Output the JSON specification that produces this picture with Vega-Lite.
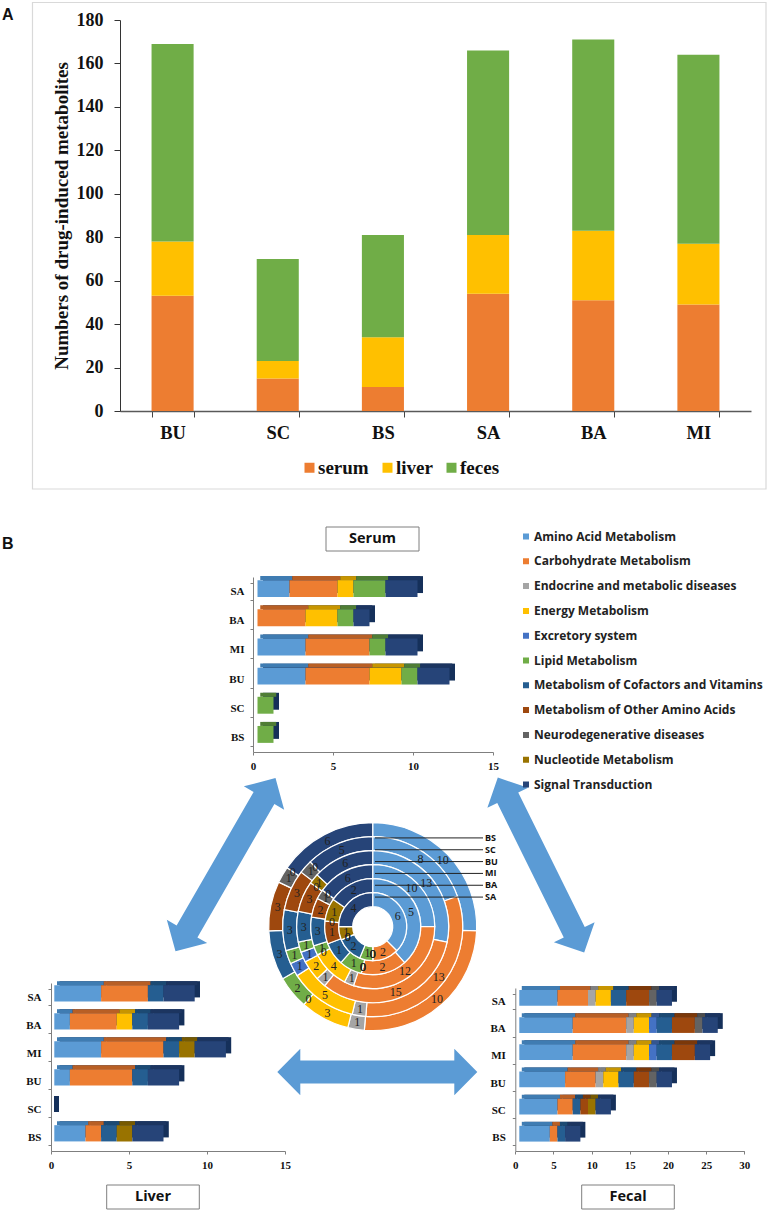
{
"$schema":"https://vega.github.io/schema/vega-lite/v6.json",
"width":773,"height":1213,"padding":0,"autosize":{"type":"none"},"background":"white",
"config":{"view":{"stroke":null},"axis":{"grid":false,"labelFlush":false}},
"datasets":{
"totals":[
{"drug":"BU","tissue":"serum","n":53},{"drug":"BU","tissue":"liver","n":25},{"drug":"BU","tissue":"feces","n":91},
{"drug":"SC","tissue":"serum","n":15},{"drug":"SC","tissue":"liver","n":8},{"drug":"SC","tissue":"feces","n":47},
{"drug":"BS","tissue":"serum","n":11},{"drug":"BS","tissue":"liver","n":23},{"drug":"BS","tissue":"feces","n":47},
{"drug":"SA","tissue":"serum","n":54},{"drug":"SA","tissue":"liver","n":27},{"drug":"SA","tissue":"feces","n":85},
{"drug":"BA","tissue":"serum","n":51},{"drug":"BA","tissue":"liver","n":32},{"drug":"BA","tissue":"feces","n":88},
{"drug":"MI","tissue":"serum","n":49},{"drug":"MI","tissue":"liver","n":28},{"drug":"MI","tissue":"feces","n":87}],
"bars":[
{"panel":"Serum","drug":"SA","pathway":"Amino Acid Metabolism","n":2},{"panel":"Serum","drug":"SA","pathway":"Carbohydrate Metabolism","n":3},{"panel":"Serum","drug":"SA","pathway":"Energy Metabolism","n":1},{"panel":"Serum","drug":"SA","pathway":"Lipid Metabolism","n":2},{"panel":"Serum","drug":"SA","pathway":"Signal Transduction","n":2},
{"panel":"Serum","drug":"BA","pathway":"Carbohydrate Metabolism","n":3},{"panel":"Serum","drug":"BA","pathway":"Energy Metabolism","n":2},{"panel":"Serum","drug":"BA","pathway":"Lipid Metabolism","n":1},{"panel":"Serum","drug":"BA","pathway":"Signal Transduction","n":1},
{"panel":"Serum","drug":"MI","pathway":"Amino Acid Metabolism","n":3},{"panel":"Serum","drug":"MI","pathway":"Carbohydrate Metabolism","n":4},{"panel":"Serum","drug":"MI","pathway":"Lipid Metabolism","n":1},{"panel":"Serum","drug":"MI","pathway":"Signal Transduction","n":2},
{"panel":"Serum","drug":"BU","pathway":"Amino Acid Metabolism","n":3},{"panel":"Serum","drug":"BU","pathway":"Carbohydrate Metabolism","n":4},{"panel":"Serum","drug":"BU","pathway":"Energy Metabolism","n":2},{"panel":"Serum","drug":"BU","pathway":"Lipid Metabolism","n":1},{"panel":"Serum","drug":"BU","pathway":"Signal Transduction","n":2},
{"panel":"Serum","drug":"SC","pathway":"Lipid Metabolism","n":1},
{"panel":"Serum","drug":"BS","pathway":"Lipid Metabolism","n":1},
{"panel":"Liver","drug":"SA","pathway":"Amino Acid Metabolism","n":3},{"panel":"Liver","drug":"SA","pathway":"Carbohydrate Metabolism","n":3},{"panel":"Liver","drug":"SA","pathway":"Metabolism of Cofactors and Vitamins","n":1},{"panel":"Liver","drug":"SA","pathway":"Signal Transduction","n":2},
{"panel":"Liver","drug":"BA","pathway":"Amino Acid Metabolism","n":1},{"panel":"Liver","drug":"BA","pathway":"Carbohydrate Metabolism","n":3},{"panel":"Liver","drug":"BA","pathway":"Energy Metabolism","n":1},{"panel":"Liver","drug":"BA","pathway":"Metabolism of Cofactors and Vitamins","n":1},{"panel":"Liver","drug":"BA","pathway":"Signal Transduction","n":2},
{"panel":"Liver","drug":"MI","pathway":"Amino Acid Metabolism","n":3},{"panel":"Liver","drug":"MI","pathway":"Carbohydrate Metabolism","n":4},{"panel":"Liver","drug":"MI","pathway":"Metabolism of Cofactors and Vitamins","n":1},{"panel":"Liver","drug":"MI","pathway":"Nucleotide Metabolism","n":1},{"panel":"Liver","drug":"MI","pathway":"Signal Transduction","n":2},
{"panel":"Liver","drug":"BU","pathway":"Amino Acid Metabolism","n":1},{"panel":"Liver","drug":"BU","pathway":"Carbohydrate Metabolism","n":4},{"panel":"Liver","drug":"BU","pathway":"Metabolism of Cofactors and Vitamins","n":1},{"panel":"Liver","drug":"BU","pathway":"Signal Transduction","n":2},
{"panel":"Liver","drug":"SC","pathway":"Signal Transduction","n":0},
{"panel":"Liver","drug":"BS","pathway":"Amino Acid Metabolism","n":2},{"panel":"Liver","drug":"BS","pathway":"Carbohydrate Metabolism","n":1},{"panel":"Liver","drug":"BS","pathway":"Metabolism of Cofactors and Vitamins","n":1},{"panel":"Liver","drug":"BS","pathway":"Nucleotide Metabolism","n":1},{"panel":"Liver","drug":"BS","pathway":"Signal Transduction","n":2},
{"panel":"Fecal","drug":"SA","pathway":"Amino Acid Metabolism","n":5},{"panel":"Fecal","drug":"SA","pathway":"Carbohydrate Metabolism","n":4},{"panel":"Fecal","drug":"SA","pathway":"Endocrine and metabolic diseases","n":1},{"panel":"Fecal","drug":"SA","pathway":"Energy Metabolism","n":2},{"panel":"Fecal","drug":"SA","pathway":"Metabolism of Cofactors and Vitamins","n":2},{"panel":"Fecal","drug":"SA","pathway":"Metabolism of Other Amino Acids","n":3},{"panel":"Fecal","drug":"SA","pathway":"Neurodegenerative diseases","n":1},{"panel":"Fecal","drug":"SA","pathway":"Signal Transduction","n":2},
{"panel":"Fecal","drug":"BA","pathway":"Amino Acid Metabolism","n":7},{"panel":"Fecal","drug":"BA","pathway":"Carbohydrate Metabolism","n":7},{"panel":"Fecal","drug":"BA","pathway":"Endocrine and metabolic diseases","n":1},{"panel":"Fecal","drug":"BA","pathway":"Energy Metabolism","n":2},{"panel":"Fecal","drug":"BA","pathway":"Excretory system","n":1},{"panel":"Fecal","drug":"BA","pathway":"Metabolism of Cofactors and Vitamins","n":2},{"panel":"Fecal","drug":"BA","pathway":"Metabolism of Other Amino Acids","n":3},{"panel":"Fecal","drug":"BA","pathway":"Neurodegenerative diseases","n":1},{"panel":"Fecal","drug":"BA","pathway":"Signal Transduction","n":2},
{"panel":"Fecal","drug":"MI","pathway":"Amino Acid Metabolism","n":7},{"panel":"Fecal","drug":"MI","pathway":"Carbohydrate Metabolism","n":7},{"panel":"Fecal","drug":"MI","pathway":"Endocrine and metabolic diseases","n":1},{"panel":"Fecal","drug":"MI","pathway":"Energy Metabolism","n":2},{"panel":"Fecal","drug":"MI","pathway":"Excretory system","n":1},{"panel":"Fecal","drug":"MI","pathway":"Metabolism of Cofactors and Vitamins","n":2},{"panel":"Fecal","drug":"MI","pathway":"Metabolism of Other Amino Acids","n":3},{"panel":"Fecal","drug":"MI","pathway":"Signal Transduction","n":2},
{"panel":"Fecal","drug":"BU","pathway":"Amino Acid Metabolism","n":6},{"panel":"Fecal","drug":"BU","pathway":"Carbohydrate Metabolism","n":4},{"panel":"Fecal","drug":"BU","pathway":"Endocrine and metabolic diseases","n":1},{"panel":"Fecal","drug":"BU","pathway":"Energy Metabolism","n":2},{"panel":"Fecal","drug":"BU","pathway":"Metabolism of Cofactors and Vitamins","n":2},{"panel":"Fecal","drug":"BU","pathway":"Metabolism of Other Amino Acids","n":2},{"panel":"Fecal","drug":"BU","pathway":"Neurodegenerative diseases","n":1},{"panel":"Fecal","drug":"BU","pathway":"Signal Transduction","n":2},
{"panel":"Fecal","drug":"SC","pathway":"Amino Acid Metabolism","n":5},{"panel":"Fecal","drug":"SC","pathway":"Carbohydrate Metabolism","n":2},{"panel":"Fecal","drug":"SC","pathway":"Metabolism of Cofactors and Vitamins","n":1},{"panel":"Fecal","drug":"SC","pathway":"Metabolism of Other Amino Acids","n":1},{"panel":"Fecal","drug":"SC","pathway":"Nucleotide Metabolism","n":1},{"panel":"Fecal","drug":"SC","pathway":"Signal Transduction","n":2},
{"panel":"Fecal","drug":"BS","pathway":"Amino Acid Metabolism","n":4},{"panel":"Fecal","drug":"BS","pathway":"Carbohydrate Metabolism","n":1},{"panel":"Fecal","drug":"BS","pathway":"Metabolism of Cofactors and Vitamins","n":1},{"panel":"Fecal","drug":"BS","pathway":"Signal Transduction","n":2}],
"rings":[
{"ring":"BS","pathway":"Amino Acid Metabolism","n":10},{"ring":"BS","pathway":"Carbohydrate Metabolism","n":10},{"ring":"BS","pathway":"Endocrine and metabolic diseases","n":1},{"ring":"BS","pathway":"Energy Metabolism","n":3},{"ring":"BS","pathway":"Excretory system","n":0},{"ring":"BS","pathway":"Lipid Metabolism","n":2},{"ring":"BS","pathway":"Metabolism of Cofactors and Vitamins","n":3},{"ring":"BS","pathway":"Metabolism of Other Amino Acids","n":3},{"ring":"BS","pathway":"Neurodegenerative diseases","n":1},{"ring":"BS","pathway":"Nucleotide Metabolism","n":0},{"ring":"BS","pathway":"Signal Transduction","n":6},
{"ring":"SC","pathway":"Amino Acid Metabolism","n":8},{"ring":"SC","pathway":"Carbohydrate Metabolism","n":13},{"ring":"SC","pathway":"Endocrine and metabolic diseases","n":1},{"ring":"SC","pathway":"Energy Metabolism","n":5},{"ring":"SC","pathway":"Excretory system","n":1},{"ring":"SC","pathway":"Lipid Metabolism","n":1},{"ring":"SC","pathway":"Metabolism of Cofactors and Vitamins","n":3},{"ring":"SC","pathway":"Metabolism of Other Amino Acids","n":3},{"ring":"SC","pathway":"Neurodegenerative diseases","n":1},{"ring":"SC","pathway":"Nucleotide Metabolism","n":0},{"ring":"SC","pathway":"Signal Transduction","n":5},
{"ring":"BU","pathway":"Amino Acid Metabolism","n":13},{"ring":"BU","pathway":"Carbohydrate Metabolism","n":15},{"ring":"BU","pathway":"Endocrine and metabolic diseases","n":1},{"ring":"BU","pathway":"Energy Metabolism","n":2},{"ring":"BU","pathway":"Excretory system","n":1},{"ring":"BU","pathway":"Lipid Metabolism","n":1},{"ring":"BU","pathway":"Metabolism of Cofactors and Vitamins","n":3},{"ring":"BU","pathway":"Metabolism of Other Amino Acids","n":3},{"ring":"BU","pathway":"Neurodegenerative diseases","n":0},{"ring":"BU","pathway":"Nucleotide Metabolism","n":1},{"ring":"BU","pathway":"Signal Transduction","n":6},
{"ring":"MI","pathway":"Amino Acid Metabolism","n":10},{"ring":"MI","pathway":"Carbohydrate Metabolism","n":12},{"ring":"MI","pathway":"Endocrine and metabolic diseases","n":1},{"ring":"MI","pathway":"Energy Metabolism","n":4},{"ring":"MI","pathway":"Excretory system","n":0},{"ring":"MI","pathway":"Lipid Metabolism","n":1},{"ring":"MI","pathway":"Metabolism of Cofactors and Vitamins","n":3},{"ring":"MI","pathway":"Metabolism of Other Amino Acids","n":2},{"ring":"MI","pathway":"Neurodegenerative diseases","n":1},{"ring":"MI","pathway":"Nucleotide Metabolism","n":0},{"ring":"MI","pathway":"Signal Transduction","n":6},
{"ring":"BA","pathway":"Amino Acid Metabolism","n":5},{"ring":"BA","pathway":"Carbohydrate Metabolism","n":2},{"ring":"BA","pathway":"Endocrine and metabolic diseases","n":0},{"ring":"BA","pathway":"Energy Metabolism","n":0},{"ring":"BA","pathway":"Excretory system","n":0},{"ring":"BA","pathway":"Lipid Metabolism","n":1},{"ring":"BA","pathway":"Metabolism of Cofactors and Vitamins","n":1},{"ring":"BA","pathway":"Metabolism of Other Amino Acids","n":1},{"ring":"BA","pathway":"Neurodegenerative diseases","n":0},{"ring":"BA","pathway":"Nucleotide Metabolism","n":1},{"ring":"BA","pathway":"Signal Transduction","n":2},
{"ring":"SA","pathway":"Amino Acid Metabolism","n":6},{"ring":"SA","pathway":"Carbohydrate Metabolism","n":2},{"ring":"SA","pathway":"Endocrine and metabolic diseases","n":0},{"ring":"SA","pathway":"Energy Metabolism","n":0},{"ring":"SA","pathway":"Excretory system","n":0},{"ring":"SA","pathway":"Lipid Metabolism","n":1},{"ring":"SA","pathway":"Metabolism of Cofactors and Vitamins","n":2},{"ring":"SA","pathway":"Metabolism of Other Amino Acids","n":0},{"ring":"SA","pathway":"Neurodegenerative diseases","n":0},{"ring":"SA","pathway":"Nucleotide Metabolism","n":1},{"ring":"SA","pathway":"Signal Transduction","n":4}],
"ringNames":[{"ring":"BS"},{"ring":"SC"},{"ring":"BU"},{"ring":"MI"},{"ring":"BA"},{"ring":"SA"}]
},
"resolve":{"scale":{"x":"independent","y":"independent","color":"independent","theta":"independent","radius":"independent"},"axis":{"x":"independent","y":"independent"},"legend":{"color":"independent"}},
"layer":[
{"data":{"values":[{"part":"A"}]},"mark":{"type":"rect","fill":null,"stroke":"#d9d9d9","strokeWidth":1.2},
 "encoding":{"x":{"datum":32.5,"scale":{"domain":[0,773],"range":[0,773]},"axis":null},"x2":{"datum":766},"y":{"datum":2.5,"scale":{"domain":[0,1213],"range":[0,1213]},"axis":null},"y2":{"datum":489}}},
{"data":{"name":"totals"},"mark":{"type":"bar"},
 "encoding":{
  "x":{"field":"drug","type":"nominal","sort":["BU","SC","BS","SA","BA","MI"],"scale":{"type":"band","range":[120,751],"paddingInner":0.6,"paddingOuter":0.3},
   "axis":{"orient":"bottom","offset":-802,"title":null,"labelAngle":0,"tickBand":"extent","tickSize":6,"tickColor":"#444","domainColor":"#595959","domainWidth":1.5,"labelFont":"Liberation Serif","labelFontWeight":"bold","labelFontSize":18.5,"labelColor":"#111","labelPadding":6}},
  "y":{"field":"n","type":"quantitative","stack":"zero","scale":{"domain":[0,180],"range":[411,20],"nice":false},
   "axis":{"orient":"left","offset":-120,"values":[0,20,40,60,80,100,120,140,160,180],"title":"Numbers of drug-induced metabolites","titleFont":"Liberation Serif","titleFontWeight":"bold","titleFontSize":19,"titleColor":"#111","titlePadding":5,"tickSize":6,"tickColor":"#333","domainColor":"#333","labelFont":"Liberation Serif","labelFontWeight":"bold","labelFontSize":18,"labelColor":"#111","labelPadding":11}},
  "color":{"field":"tissue","type":"nominal","scale":{"domain":["serum","liver","feces"],"range":["#ED7D31","#FFC000","#70AD47"]},
   "legend":{"orient":"none","legendX":300,"legendY":458,"direction":"horizontal","columns":3,"title":null,"symbolType":"square","symbolSize":100,"symbolStrokeWidth":0,"labelFont":"Liberation Serif","labelFontWeight":"bold","labelFontSize":19,"labelColor":"#111","labelOffset":-1,"columnPadding":9}},
  "order":{"field":"tissue","sort":"descending"}}},
{"data":{"name":"bars"},"transform":[{"filter":"datum.panel==='Serum'"}],
 "encoding":{
  "x":{"field":"n","type":"quantitative","stack":"zero","scale":{"domain":[0,15],"range":[253,493],"nice":false},"axis":{"orient":"bottom","offset":-461,"title":null,"values":[0,5,10,15],"tickSize":3,"tickColor":"#7f7f7f","domainColor":"#7f7f7f","labelFont":"Liberation Serif","labelFontWeight":"bold","labelFontSize":11,"labelColor":"#111","labelPadding":5}},
  "y":{"field":"drug","type":"nominal","sort":["SA","BA","MI","BU","SC","BS"],"scale":{"type":"band","range":[577,752],"paddingInner":0.42,"paddingOuter":0.21},"axis":{"orient":"left","offset":-253,"title":null,"tickBand":"extent","tickSize":3,"tickColor":"#7f7f7f","domainColor":"#7f7f7f","labelFont":"Liberation Serif","labelFontWeight":"bold","labelFontSize":11,"labelColor":"#111","labelPadding":6}}},
 "layer":[
  {"mark":{"type":"bar","color":"#15305a","xOffset":10,"yOffset":-7},"encoding":{"detail":{"field":"pathway"}}},
  {"mark":{"type":"bar","height":4,"xOffset":7.25,"yOffset":-13.5},"encoding":{"color":{"field":"pathway","type":"nominal","legend":null,"scale":{"domain":["Amino Acid Metabolism","Carbohydrate Metabolism","Endocrine and metabolic diseases","Energy Metabolism","Excretory system","Lipid Metabolism","Metabolism of Cofactors and Vitamins","Metabolism of Other Amino Acids","Neurodegenerative diseases","Nucleotide Metabolism","Signal Transduction"],"range":["#3f7cb2","#b85f25","#808080","#c79500","#34568f","#4f7d35","#1c4a73","#7b3809","#4d4d4d","#775a00","#1c3560"]}}}},
  {"mark":{"type":"bar","xOffset":4.5,"yOffset":-3},"encoding":{"color":{"field":"pathway","type":"nominal","scale":{"domain":["Amino Acid Metabolism","Carbohydrate Metabolism","Endocrine and metabolic diseases","Energy Metabolism","Excretory system","Lipid Metabolism","Metabolism of Cofactors and Vitamins","Metabolism of Other Amino Acids","Neurodegenerative diseases","Nucleotide Metabolism","Signal Transduction"],"range":["#5B9BD5","#ED7D31","#A5A5A5","#FFC000","#4472C4","#70AD47","#255E91","#9E480E","#636363","#997300","#264478"]},"legend":null}}}
 ],"resolve":{"scale":{"color":"independent"}}},
{"data":{"name":"bars"},"transform":[{"filter":"datum.panel==='Liver'"}],
 "encoding":{
  "x":{"field":"n","type":"quantitative","stack":"zero","scale":{"domain":[0,15],"range":[51,285],"nice":false},"axis":{"orient":"bottom","offset":-62,"title":null,"values":[0,5,10,15],"tickSize":3,"tickColor":"#7f7f7f","domainColor":"#7f7f7f","labelFont":"Liberation Serif","labelFontWeight":"bold","labelFontSize":11,"labelColor":"#111","labelPadding":5}},
  "y":{"field":"drug","type":"nominal","sort":["SA","BA","MI","BU","SC","BS"],"scale":{"type":"band","range":[983,1151],"paddingInner":0.42,"paddingOuter":0.21},"axis":{"orient":"left","offset":-51,"title":null,"tickBand":"extent","tickSize":3,"tickColor":"#7f7f7f","domainColor":"#7f7f7f","labelFont":"Liberation Serif","labelFontWeight":"bold","labelFontSize":11,"labelColor":"#111","labelPadding":7}}},
 "layer":[
  {"mark":{"type":"bar","color":"#15305a","xOffset":8.6,"yOffset":-7.7},"encoding":{"detail":{"field":"pathway"}}},
  {"mark":{"type":"bar","height":4,"xOffset":6,"yOffset":-13.8},"encoding":{"color":{"field":"pathway","type":"nominal","legend":null,"scale":{"domain":["Amino Acid Metabolism","Carbohydrate Metabolism","Endocrine and metabolic diseases","Energy Metabolism","Excretory system","Lipid Metabolism","Metabolism of Cofactors and Vitamins","Metabolism of Other Amino Acids","Neurodegenerative diseases","Nucleotide Metabolism","Signal Transduction"],"range":["#3f7cb2","#b85f25","#808080","#c79500","#34568f","#4f7d35","#1c4a73","#7b3809","#4d4d4d","#775a00","#1c3560"]}}}},
  {"mark":{"type":"bar","xOffset":3.3,"yOffset":-3.7},"encoding":{"color":{"field":"pathway","type":"nominal","scale":{"domain":["Amino Acid Metabolism","Carbohydrate Metabolism","Endocrine and metabolic diseases","Energy Metabolism","Excretory system","Lipid Metabolism","Metabolism of Cofactors and Vitamins","Metabolism of Other Amino Acids","Neurodegenerative diseases","Nucleotide Metabolism","Signal Transduction"],"range":["#5B9BD5","#ED7D31","#A5A5A5","#FFC000","#4472C4","#70AD47","#255E91","#9E480E","#636363","#997300","#264478"]},"legend":null}}},
  {"transform":[{"filter":"datum.n===0"}],"mark":{"type":"tick","color":"#15305a","orient":"vertical","thickness":5,"size":16,"xOffset":5.5,"yOffset":-5,"opacity":1}}
 ],"resolve":{"scale":{"color":"independent"}}},
{"data":{"name":"bars"},"transform":[{"filter":"datum.panel==='Fecal'"}],
 "encoding":{
  "x":{"field":"n","type":"quantitative","stack":"zero","scale":{"domain":[0,30],"range":[515.3,744.3],"nice":false},"axis":{"orient":"bottom","offset":-62,"title":null,"values":[0,5,10,15,20,25,30],"tickSize":3,"tickColor":"#7f7f7f","domainColor":"#7f7f7f","labelFont":"Liberation Serif","labelFontWeight":"bold","labelFontSize":11,"labelColor":"#111","labelPadding":5}},
  "y":{"field":"drug","type":"nominal","sort":["SA","BA","MI","BU","SC","BS"],"scale":{"type":"band","range":[988,1151],"paddingInner":0.42,"paddingOuter":0.21},"axis":{"orient":"left","offset":-515.3,"title":null,"tickBand":"extent","tickSize":3,"tickColor":"#7f7f7f","domainColor":"#7f7f7f","labelFont":"Liberation Serif","labelFontWeight":"bold","labelFontSize":11,"labelColor":"#111","labelPadding":7}}},
 "layer":[
  {"mark":{"type":"bar","color":"#15305a","xOffset":9,"yOffset":-7.7},"encoding":{"detail":{"field":"pathway"}}},
  {"mark":{"type":"bar","height":4,"xOffset":6.5,"yOffset":-13.6},"encoding":{"color":{"field":"pathway","type":"nominal","legend":null,"scale":{"domain":["Amino Acid Metabolism","Carbohydrate Metabolism","Endocrine and metabolic diseases","Energy Metabolism","Excretory system","Lipid Metabolism","Metabolism of Cofactors and Vitamins","Metabolism of Other Amino Acids","Neurodegenerative diseases","Nucleotide Metabolism","Signal Transduction"],"range":["#3f7cb2","#b85f25","#808080","#c79500","#34568f","#4f7d35","#1c4a73","#7b3809","#4d4d4d","#775a00","#1c3560"]}}}},
  {"mark":{"type":"bar","xOffset":4,"yOffset":-3.7},"encoding":{"color":{"field":"pathway","type":"nominal","scale":{"domain":["Amino Acid Metabolism","Carbohydrate Metabolism","Endocrine and metabolic diseases","Energy Metabolism","Excretory system","Lipid Metabolism","Metabolism of Cofactors and Vitamins","Metabolism of Other Amino Acids","Neurodegenerative diseases","Nucleotide Metabolism","Signal Transduction"],"range":["#5B9BD5","#ED7D31","#A5A5A5","#FFC000","#4472C4","#70AD47","#255E91","#9E480E","#636363","#997300","#264478"]},"legend":null}}}
 ],"resolve":{"scale":{"color":"independent"}}},
{"data":{"name":"rings"},"mark":{"type":"arc","stroke":"white","strokeWidth":1.2},
 "encoding":{
  "x":{"datum":0,"scale":{"domain":[-1,1],"range":[268.7,476.7]},"axis":null},
  "y":{"datum":0,"scale":{"domain":[-1,1],"range":[822.7,1030.7]},"axis":null},
  "theta":{"field":"n","type":"quantitative","stack":"normalize","scale":{"domain":[0,1],"range":[0,6.28318]}},
  "radius":{"field":"ring","type":"nominal","sort":["SA","BA","MI","BU","SC","BS"],"scale":{"type":"band","range":[20,104],"paddingInner":0,"paddingOuter":0}},
  "color":{"field":"pathway","type":"nominal","scale":{"domain":["Amino Acid Metabolism","Carbohydrate Metabolism","Endocrine and metabolic diseases","Energy Metabolism","Excretory system","Lipid Metabolism","Metabolism of Cofactors and Vitamins","Metabolism of Other Amino Acids","Neurodegenerative diseases","Nucleotide Metabolism","Signal Transduction"],"range":["#5B9BD5","#ED7D31","#A5A5A5","#FFC000","#4472C4","#70AD47","#255E91","#9E480E","#636363","#997300","#264478"]},
   "legend":{"orient":"none","legendX":520,"legendY":530,"title":null,"symbolType":"square","symbolSize":36,"symbolStrokeWidth":0,"labelFont":"Open Sans","labelFontWeight":"bold","labelFontSize":12,"labelColor":"#222","labelLimit":260,"labelOffset":2,"clipHeight":13,"rowPadding":11.8}}}},
{"data":{"name":"rings"},"mark":{"type":"text","font":"Liberation Serif","fontSize":12,"color":"#222"},
 "encoding":{
  "x":{"datum":0,"scale":{"domain":[-1,1],"range":[268.7,476.7]},"axis":null},
  "y":{"datum":0,"scale":{"domain":[-1,1],"range":[822.7,1030.7]},"axis":null},
  "theta":{"field":"n","type":"quantitative","stack":"normalize","scale":{"domain":[0,1],"range":[0,6.28318]}},
  "radius":{"field":"ring","type":"nominal","sort":["SA","BA","MI","BU","SC","BS"],"scale":{"type":"band","range":[20,104],"paddingInner":0,"paddingOuter":0}},
  "detail":{"field":"pathway"},
  "order":{"field":"pathway"},
  "text":{"field":"n","type":"quantitative"}}},
{"data":{"name":"ringNames"},"mark":{"type":"rule","color":"#222","strokeWidth":1},
 "encoding":{
  "x":{"datum":0,"scale":{"domain":[0,1],"range":[375,483]},"axis":null},"x2":{"datum":1},
  "y":{"field":"ring","type":"nominal","sort":null,"scale":{"type":"point","domain":["BS","SC","BU","MI","BA","SA"],"range":[832,903]},"axis":null}}},
{"data":{"name":"ringNames"},"mark":{"type":"text","align":"left","dx":2,"font":"Open Sans","fontWeight":"bold","fontSize":9,"color":"#111"},
 "encoding":{
  "x":{"datum":1,"scale":{"domain":[0,1],"range":[375,483]},"axis":null},
  "y":{"field":"ring","type":"nominal","sort":null,"scale":{"type":"point","domain":["BS","SC","BU","MI","BA","SA"],"range":[832,903]},"axis":null},
  "text":{"field":"ring"}}},
{"data":{"values":[{"link":"Serum-Liver"}]},"mark":{"type":"point","filled":true,"opacity":1,"color":"#5B9BD5","strokeWidth":0,"angle":120,"size":40000,"shape":"M-1,0L-0.77,-0.233L-0.77,-0.12L0.77,-0.12L0.77,-0.233L1,0L0.77,0.233L0.77,0.12L-0.77,0.12L-0.77,0.233Z"},
 "encoding":{"x":{"datum":225.5,"scale":{"domain":[0,773],"range":[0,773]},"axis":null},"y":{"datum":864.7,"scale":{"domain":[0,1213],"range":[0,1213]},"axis":null}}},
{"data":{"values":[{"link":"Serum-Fecal"}]},"mark":{"type":"point","filled":true,"opacity":1,"color":"#5B9BD5","strokeWidth":0,"angle":63.7,"size":38000,"shape":"M-1,0L-0.77,-0.233L-0.77,-0.12L0.77,-0.12L0.77,-0.233L1,0L0.77,0.233L0.77,0.12L-0.77,0.12L-0.77,0.233Z"},
 "encoding":{"x":{"datum":541,"scale":{"domain":[0,773],"range":[0,773]},"axis":null},"y":{"datum":865,"scale":{"domain":[0,1213],"range":[0,1213]},"axis":null}}},
{"data":{"values":[{"link":"Liver-Fecal"}]},"mark":{"type":"point","filled":true,"opacity":1,"color":"#5B9BD5","strokeWidth":0,"size":40000,"shape":"M-1,0L-0.77,-0.233L-0.77,-0.115L0.77,-0.115L0.77,-0.233L1,0L0.77,0.233L0.77,0.115L-0.77,0.115L-0.77,0.233Z"},
 "encoding":{"x":{"datum":377.3,"scale":{"domain":[0,773],"range":[0,773]},"axis":null},"y":{"datum":1072,"scale":{"domain":[0,1213],"range":[0,1213]},"axis":null}}},
{"data":{"values":[{"box":"Serum"}]},"mark":{"type":"rect","fill":"white","stroke":"#7f7f7f","strokeWidth":1},
 "encoding":{"x":{"datum":326,"scale":{"domain":[0,773],"range":[0,773]},"axis":null},"x2":{"datum":419},"y":{"datum":527,"scale":{"domain":[0,1213],"range":[0,1213]},"axis":null},"y2":{"datum":551}}},
{"data":{"values":[{"box":"Liver"}]},"mark":{"type":"rect","fill":"white","stroke":"#7f7f7f","strokeWidth":1},
 "encoding":{"x":{"datum":106.7,"scale":{"domain":[0,773],"range":[0,773]},"axis":null},"x2":{"datum":199.3},"y":{"datum":1185,"scale":{"domain":[0,1213],"range":[0,1213]},"axis":null},"y2":{"datum":1209}}},
{"data":{"values":[{"box":"Fecal"}]},"mark":{"type":"rect","fill":"white","stroke":"#7f7f7f","strokeWidth":1},
 "encoding":{"x":{"datum":581.7,"scale":{"domain":[0,773],"range":[0,773]},"axis":null},"x2":{"datum":674.3},"y":{"datum":1185,"scale":{"domain":[0,1213],"range":[0,1213]},"axis":null},"y2":{"datum":1209}}},
{"data":{"values":[{"box":"Serum"}]},"mark":{"type":"text","font":"Open Sans","fontWeight":"bold","fontSize":14.5,"color":"#111"},
 "encoding":{"x":{"datum":372.5,"scale":{"domain":[0,773],"range":[0,773]},"axis":null},"y":{"datum":539,"scale":{"domain":[0,1213],"range":[0,1213]},"axis":null},"text":{"field":"box"}}},
{"data":{"values":[{"box":"Liver"}]},"mark":{"type":"text","font":"Open Sans","fontWeight":"bold","fontSize":14.5,"color":"#111"},
 "encoding":{"x":{"datum":153,"scale":{"domain":[0,773],"range":[0,773]},"axis":null},"y":{"datum":1197,"scale":{"domain":[0,1213],"range":[0,1213]},"axis":null},"text":{"field":"box"}}},
{"data":{"values":[{"box":"Fecal"}]},"mark":{"type":"text","font":"Open Sans","fontWeight":"bold","fontSize":14.5,"color":"#111"},
 "encoding":{"x":{"datum":628,"scale":{"domain":[0,773],"range":[0,773]},"axis":null},"y":{"datum":1197,"scale":{"domain":[0,1213],"range":[0,1213]},"axis":null},"text":{"field":"box"}}},
{"data":{"values":[{"panel":"A"}]},"mark":{"type":"text","align":"left","font":"Liberation Sans","fontWeight":"bold","fontSize":16,"color":"#111"},
 "encoding":{"x":{"datum":2,"scale":{"domain":[0,773],"range":[0,773]},"axis":null},"y":{"datum":15,"scale":{"domain":[0,1213],"range":[0,1213]},"axis":null},"text":{"field":"panel"}}},
{"data":{"values":[{"panel":"B"}]},"mark":{"type":"text","align":"left","font":"Liberation Sans","fontWeight":"bold","fontSize":16,"color":"#111"},
 "encoding":{"x":{"datum":2,"scale":{"domain":[0,773],"range":[0,773]},"axis":null},"y":{"datum":544,"scale":{"domain":[0,1213],"range":[0,1213]},"axis":null},"text":{"field":"panel"}}}
]
}
